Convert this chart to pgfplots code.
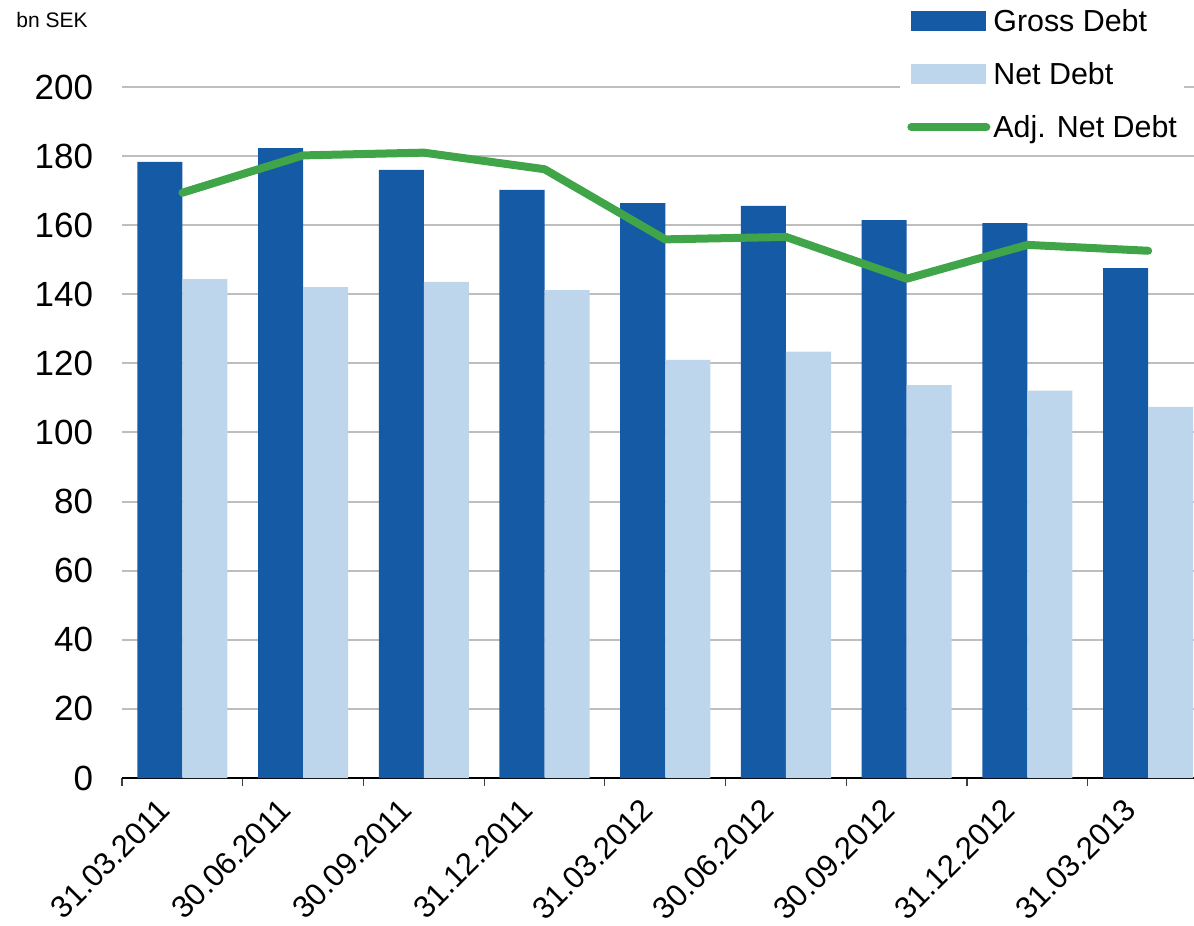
\documentclass[border=0pt]{standalone}
\usepackage{fontspec}
\setmainfont{Liberation Sans}
\usepackage{pgfplots}
\pgfplotsset{compat=1.18}

\definecolor{grossblue}{RGB}{21,90,165}
\definecolor{netblue}{RGB}{190,214,236}
\definecolor{adjgreen}{RGB}{64,164,72}
\definecolor{gridgray}{RGB}{190,190,190}

% Quarter-end debt figures, bn SEK (x = quarter index)
\pgfplotstableread{
x gross net adj
0 178.3 144.4 169.4
1 182.3 142.1 180.2
2 176.0 143.6 181.0
3 170.2 141.2 176.2
4 166.4 121.0 155.9
5 165.6 123.4 156.6
6 161.5 113.7 144.5
7 160.6 112.1 154.3
8 147.6 107.4 152.6
}\debt

\begin{document}
\begin{tikzpicture}
\begin{axis}[
  name=ax,
  at={(0pt,0pt)}, anchor=south west,
  scale only axis,
  clip=false,
  width=536pt, height=345.5pt,
  xmin=-0.5, xmax=8.38,
  ymin=0, ymax=200,
  ytick={0,20,...,200},
  xtick={0,...,8},
  xticklabels={31.03.2011,30.06.2011,30.09.2011,31.12.2011,31.03.2012,30.06.2012,30.09.2012,31.12.2012,31.03.2013},
  minor xtick={-0.5,0.5,...,7.5},
  axis x line*=bottom,
  axis y line*=left,
  y axis line style={draw=none},
  x axis line style={black, line width=0.75pt},
  tick align=outside,
  xtick style={draw=none},
  ytick style={draw=none},
  minor x tick style={draw=black!75, line width=0.6pt},
  minor tick length=4pt,
  major tick length=0pt,
  ymajorgrids,
  major grid style={gridgray, line width=1pt},
  /pgf/number format/assume math mode=true,
  yticklabel style={font=\fontsize{17.5}{21}\selectfont, anchor=east, inner sep=0pt, xshift=-14.3pt},
  xticklabel style={font=\fontsize{15.5}{18.5}\selectfont, inner sep=0pt, xshift=-5pt, yshift=-17pt, rotate=45, anchor=base east},
  legend style={
    at={(rel axis cs:0.7257,1.1216)}, anchor=north west,
    draw=none, fill=white, inner sep=3.5pt,
    font=\fontsize{15.2}{18}\selectfont,
    row sep=15.75pt, column sep=1.5pt,
    nodes={inner sep=0pt, text height=10.75pt, text depth=0pt, anchor=base west},
  },
  legend cell align=left,
]
\addplot[ybar, bar width=0.373, bar shift=-0.1865, fill=grossblue, draw=none,
  legend image code/.code={%
    \path[draw=none, fill=none] (-2pt,0pt) rectangle (39.5pt,10.75pt);
    \fill[grossblue] (0pt,0.37pt) rectangle (37.5pt,10.37pt);}]
  table[x=x, y=gross] {\debt};
\addlegendentry{Gross Debt}
\addplot[ybar, bar width=0.373, bar shift=0.1865, fill=netblue, draw=none,
  legend image code/.code={%
    \path[draw=none, fill=none] (-2pt,0pt) rectangle (39.5pt,10.75pt);
    \fill[netblue] (0pt,0.37pt) rectangle (37.5pt,10.37pt);}]
  table[x=x, y=net] {\debt};
\addlegendentry{Net Debt}
\addplot[sharp plot, adjgreen, line width=4pt, line join=round, line cap=round, mark=none,
  legend image code/.code={%
    \path[draw=none, fill=none] (-2pt,0pt) rectangle (39.5pt,10.75pt);
    \draw[adjgreen, line width=4pt, line cap=round] (0pt,5.37pt) -- (37.5pt,5.37pt);}]
  table[x=x, y=adj] {\debt};
\addlegendentry{Adj. Net Debt}
\node[anchor=west, inner sep=0pt, font=\fontsize{10.5}{12}\selectfont] at (rel axis cs:-0.0989,1.097) {bn SEK};
\end{axis}
\pgfresetboundingbox
\path[use as bounding box] (-61pt,-74pt) rectangle (536pt,389pt);
\end{tikzpicture}
\end{document}
